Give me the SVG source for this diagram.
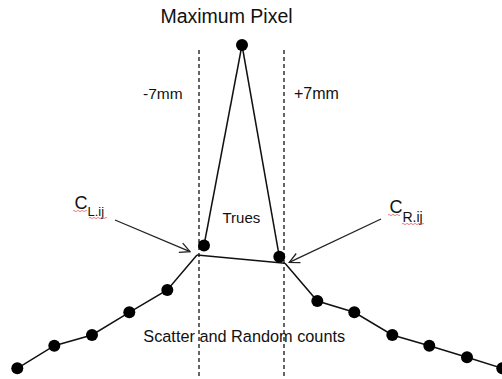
<svg xmlns="http://www.w3.org/2000/svg" width="502" height="379" viewBox="0 0 502 379">
<defs>
<style>
.t{font-family:"Liberation Sans",Arial,sans-serif;fill:#111}
.dot{fill:#000}
.ln{stroke:#111;stroke-width:1.5;fill:none}
.dash{stroke:#333;stroke-width:1.5;stroke-dasharray:4,3;fill:none}
.arr{stroke:#222;stroke-width:1.3;fill:none}
.sq{stroke:#e06060;stroke-width:0.8;fill:none}
</style>
<marker id="ah" viewBox="0 0 12 12" refX="11" refY="6" markerWidth="12" markerHeight="12" markerUnits="userSpaceOnUse" orient="auto">
<path d="M1,1 L11,6 L1,11" stroke="#222" stroke-width="1.3" fill="none"/>
</marker>
</defs>
<rect width="502" height="379" fill="#fff"/>
<g id="limits">
<line class="dash" x1="199" y1="50" x2="199" y2="379"/>
<line class="dash" x1="284" y1="50" x2="284" y2="379"/>
</g>
<g id="connectors">
<line class="ln" x1="242" y1="45" x2="204" y2="245.5"/>
<line class="ln" x1="242" y1="45" x2="279.3" y2="256.7"/>
<line class="ln" x1="197" y1="255" x2="285" y2="263.3"/>
<polyline class="ln" points="197,255 167.3,290 129.3,312.3 92,335 54.3,345.7 17.3,368.3"/>
<polyline class="ln" points="285,263.3 317.3,301 354.3,312.3 392.3,335 429.3,345.7 467,357.3 502.3,368.3"/>
<line class="arr" x1="115" y1="220" x2="190" y2="251.7" marker-end="url(#ah)"/>
<line class="arr" x1="381" y1="219" x2="289.3" y2="262.3" marker-end="url(#ah)"/>
</g>
<g id="maxPixel"><circle class="dot" cx="242" cy="45" r="6"/></g>
<g id="leftTrue"><circle class="dot" cx="204" cy="245.5" r="6"/></g>
<g id="rightTrue"><circle class="dot" cx="279.3" cy="256.7" r="6"/></g>
<g id="leftTail">
<circle class="dot" cx="167.3" cy="290" r="6"/>
<circle class="dot" cx="129.3" cy="312.3" r="6"/>
<circle class="dot" cx="92" cy="335" r="6"/>
<circle class="dot" cx="54.3" cy="345.7" r="6"/>
<circle class="dot" cx="17.3" cy="368.3" r="6"/>
</g>
<g id="rightTail">
<circle class="dot" cx="317.3" cy="301" r="6"/>
<circle class="dot" cx="354.3" cy="312.3" r="6"/>
<circle class="dot" cx="392.3" cy="335" r="6"/>
<circle class="dot" cx="429.3" cy="345.7" r="6"/>
<circle class="dot" cx="467" cy="357.3" r="6"/>
<circle class="dot" cx="502.3" cy="368.3" r="6"/>
</g>
<g id="labels">
<text class="t" x="226.5" y="23" font-size="19.5" text-anchor="middle">Maximum Pixel</text>
<text class="t" x="143" y="99" font-size="15.5">-7mm</text>
<text class="t" x="294" y="99" font-size="16">+7mm</text>
<text class="t" x="222.5" y="223" font-size="15">Trues</text>
<text class="t" x="143.3" y="341.7" font-size="16.3">Scatter and Random counts</text>
</g>
<g id="labelCL">
<text class="t" x="74.5" y="209" font-size="18">C<tspan font-size="13" dy="6.7">L.ij</tspan></text>
<path class="sq" d="M73,211 q1,-1.2 2,0 t2,0 t2,0 t2,0 t2,0 t2,0 t2,0 M89,218 q1,-1.2 2,0 t2,0 t2,0 t2,0 t2,0 t2,0 t2,0 t2,0 t2,0"/>
</g>
<g id="labelCR">
<text class="t" x="389.5" y="212.7" font-size="18">C<tspan font-size="14" dy="9">R.ij</tspan></text>
<path class="sq" d="M388,215 q1,-1.2 2,0 t2,0 t2,0 t2,0 t2,0 t2,0 M402,224 q1,-1.2 2,0 t2,0 t2,0 t2,0 t2,0 t2,0 t2,0 t2,0 t2,0 t2,0 t2,0"/>
</g>
</svg>
